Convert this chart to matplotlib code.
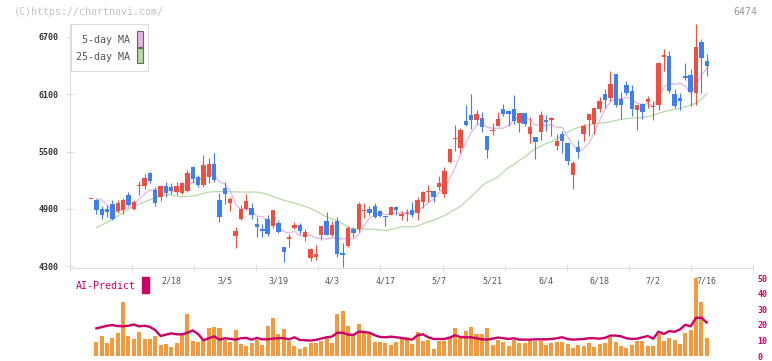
import numpy as np
import matplotlib
matplotlib.use("Agg")
import matplotlib.pyplot as plt
from matplotlib.patches import Rectangle
from matplotlib.transforms import blended_transform_factory

nan = np.nan

# daily candles (c1 .. c116)
opens = [5004, 4994, 4900, 4900, 4952, 4882, 4893, 5046, 4900, 5135,
         5140, 5277, 5098, 5025, 5137, 5130, 5078, 5067, 5088, 5339,
         5235, 5154, 5235, 5371, 4994, 5119, 4962, 4617, 4795, 4903,
         4910, 4743, 4690, 4795, 4722, 4753, 4502, 4588, 4701, 4732,
         4606, 4390, 4397, 4631, 4774, 4631, 4774, 4425, 4512, 4690,
         4690, 4875, 4900, 4931, 4879, 4820, 4837, 4920, 4826, 4843,
         4889, 4857, 4973, 5073, 5088, 5130, 5056, 5391, 5628, 5538,
         5821, 5884, 5831, 5852, 5664, 5712, 5768, 5946, 5925, 5946,
         5800, 5904, 5685, 5653, 5706, 5831, 5831, 5559, 5685, 5590,
         5255, 5548, 5684, 5831, 5789, 5946, 6103, 6061, 6313, 6051,
         6197, 6135, 5936, 5998, 6020, 5963, 5988, 6491, 6501, 6103,
         6061, 6292, 6302, 6114, 6648, 6449]
highs = [5004, 5004, 4931, 4941, 4994, 4994, 5015, 5078, 4994, 5193,
         5266, 5287, 5130, 5151, 5182, 5172, 5182, 5182, 5308, 5350,
         5256, 5465, 5430, 5486, 5067, 5182, 5025, 4711, 4944, 5057,
         4962, 4816, 4746, 4837, 4889, 4784, 4502, 4641, 4763, 4753,
         4690, 4491, 4523, 4722, 4868, 4774, 4816, 4544, 4722, 4711,
         4973, 4962, 4931, 4962, 4889, 4826, 4931, 4931, 4879, 4900,
         4973, 5025, 5088, 5151, 5088, 5245, 5339, 5528, 5779, 5747,
         5988, 6103, 5936, 5915, 5664, 5800, 5915, 5999, 5936, 6093,
         5904, 5904, 5863, 5653, 5925, 5884, 5863, 5685, 5716, 5590,
         5402, 5622, 5789, 5894, 5957, 6072, 6156, 6344, 6313, 6124,
         6239, 6197, 5988, 6009, 6082, 6030, 6428, 6575, 6553, 6156,
         6114, 6428, 6365, 6836, 6679, 6522]
lows = [5004, 4847, 4798, 4819, 4784, 4854, 4851, 4934, 4889, 5046,
        5112, 5175, 4934, 4987, 5022, 5053, 5046, 5057, 5078, 5172,
        5130, 5130, 5172, 5182, 4763, 4955, 4879, 4491, 4780, 4886,
        4798, 4610, 4610, 4620, 4697, 4652, 4345, 4502, 4694, 4638,
        4568, 4359, 4369, 4575, 4631, 4620, 4400, 4296, 4502, 4606,
        4659, 4805, 4837, 4805, 4816, 4722, 4837, 4837, 4784, 4774,
        4816, 4784, 4910, 4973, 4973, 5098, 5025, 5381, 5507, 5486,
        5768, 5737, 5789, 5706, 5433, 5674, 5768, 5873, 5768, 5789,
        5706, 5768, 5590, 5423, 5622, 5716, 5664, 5517, 5486, 5360,
        5109, 5433, 5611, 5663, 5684, 5915, 5957, 6030, 5967, 5842,
        6093, 5873, 5726, 5842, 5957, 5831, 5936, 6344, 6114, 5957,
        5936, 6250, 5978, 5988, 6114, 6292]
closes = [5004, 4893, 4840, 4868, 4795, 4962, 4994, 4945, 4973, 5140,
          5224, 5196, 4962, 5140, 5067, 5088, 5140, 5172, 5277, 5214,
          5151, 5360, 5371, 5203, 4816, 5057, 5004, 4669, 4900, 4983,
          4840, 4711, 4673, 4641, 4889, 4662, 4449, 4592, 4732, 4669,
          4659, 4481, 4428, 4722, 4631, 4732, 4432, 4421, 4701, 4648,
          4952, 4879, 4858, 4816, 4826, 4816, 4920, 4889, 4847, 4847,
          4837, 4994, 5077, 5077, 5025, 5172, 5297, 5528, 5632, 5727,
          5779, 5831, 5894, 5758, 5517, 5716, 5842, 5894, 5897, 5821,
          5904, 5789, 5758, 5601, 5884, 5810, 5852, 5611, 5611, 5402,
          5381, 5496, 5768, 5894, 5957, 6030, 6040, 6208, 5988, 5988,
          6114, 5946, 5988, 5915, 6051, 5967, 6428, 6512, 6135, 5978,
          6030, 6271, 6124, 6595, 6480, 6396]

ma5 = [nan, 5004, 4994, 4940, 4880, 4872, 4892, 4913, 4934, 5003,
       5055, 5096, 5099, 5132, 5118, 5091, 5079, 5121, 5149, 5178,
       5191, 5235, 5275, 5260, 5180, 5161, 5090, 4950, 4889, 4923,
       4879, 4821, 4821, 4770, 4751, 4715, 4663, 4647, 4665, 4621,
       4620, 4627, 4594, 4592, 4584, 4599, 4589, 4588, 4583, 4587,
       4631, 4720, 4808, 4831, 4866, 4839, 4847, 4853, 4860, 4864,
       4868, 4883, 4920, 4966, 5002, 5069, 5130, 5220, 5331, 5471,
       5593, 5699, 5773, 5798, 5756, 5743, 5745, 5745, 5773, 5834,
       5872, 5861, 5834, 5775, 5787, 5768, 5781, 5752, 5754, 5657,
       5571, 5500, 5532, 5588, 5699, 5829, 5938, 6026, 6045, 6051,
       6068, 6049, 6005, 5990, 6003, 5973, 6070, 6175, 6219, 6204,
       6217, 6185, 6108, 6200, 6300, 6373]
ma25 = [nan, 4705, 4730, 4760, 4790, 4825, 4860, 4895, 4925, 4950,
        4975, 4995, 5020, 5035, 5045, 5050, 5035, 5028, 5030, 5035,
        5045, 5060, 5075, 5080, 5082, 5082, 5080, 5078, 5076, 5075,
        5077, 5075, 5068, 5050, 5030, 5010, 4990, 4975, 4960, 4945,
        4925, 4905, 4880, 4845, 4815, 4795, 4780, 4745, 4708, 4690,
        4687, 4687, 4687, 4685, 4680, 4673, 4685, 4697, 4712, 4714,
        4714, 4722, 4745, 4765, 4780, 4805, 4830, 4860, 4895, 4925,
        4975, 5030, 5080, 5140, 5180, 5205, 5235, 5285, 5335, 5365,
        5410, 5440, 5490, 5530, 5555, 5585, 5605, 5635, 5665, 5700,
        5730, 5755, 5770, 5780, 5790, 5797, 5803, 5812, 5825, 5838,
        5845, 5850, 5852, 5858, 5866, 5880, 5900, 5918, 5930, 5942,
        5953, 5970, 5988, 6006, 6050, 6103]

volume = [nan, 9.1, 12.9, 8.4, 11.6, 14.8, 34.4, 12.9, 11.0, 15.4,
          11.0, 11.0, 12.9, 7.2, 7.8, 5.9, 8.4, 13.5, 26.8, 9.7,
          9.1, 10.3, 17.9, 18.6, 17.9, 10.3, 9.1, 16.7, 7.8, 6.5,
          8.4, 10.3, 7.2, 19.2, 24.3, 14.1, 17.3, 9.7, 6.5, 4.6,
          5.9, 8.4, 8.4, 9.7, 11.6, 8.4, 26.8, 28.7, 19.2, 13.5,
          20.4, 15.4, 14.1, 9.1, 9.1, 8.4, 7.2, 9.1, 11.6, 12.5,
          7.8, 15.4, 9.7, 10.3, 4.6, 9.7, 9.7, 12.2, 17.9, 12.2,
          16.0, 18.6, 14.1, 14.1, 17.9, 7.1, 10.3, 9.0, 6.5, 10.3,
          8.4, 8.4, 10.3, 9.7, 9.7, 7.1, 8.4, 9.0, 9.0, 7.8,
          5.2, 7.1, 6.5, 8.4, 5.8, 7.8, 8.4, 12.2, 9.0, 6.5,
          5.2, 7.1, 9.7, 9.7, 6.5, 6.5, 14.1, 9.7, 11.6, 10.3,
          7.8, 14.8, 16.7, 49.7, 34.3, 11.6]
ai_predict = [nan, 17.7, 18.5, 19.4, 19.8, 19.2, 19.0, 19.4, 20.2, 19.0,
              19.4, 18.7, 16.6, 12.8, 13.7, 14.5, 13.9, 13.9, 14.9, 16.4,
              14.1, 10.1, 11.4, 12.6, 10.5, 11.4, 11.0, 10.5, 11.4, 11.6,
              10.5, 11.6, 10.7, 10.7, 11.2, 11.4, 11.4, 10.7, 12.0, 10.3,
              10.1, 9.9, 10.3, 11.2, 12.0, 12.4, 14.9, 14.9, 13.7, 13.5,
              15.6, 15.4, 14.9, 13.3, 12.2, 12.0, 12.4, 12.0, 11.6, 10.9,
              10.5, 13.3, 13.9, 12.0, 10.9, 10.9, 10.9, 11.8, 13.3, 12.2,
              12.0, 12.0, 11.4, 10.7, 10.5, 11.1, 11.8, 11.4, 10.9, 11.4,
              10.5, 10.5, 10.5, 10.7, 10.7, 10.7, 10.9, 11.4, 12.0, 10.9,
              10.5, 10.7, 10.9, 11.4, 11.4, 11.1, 11.6, 13.1, 13.1, 12.6,
              11.4, 10.9, 11.1, 12.0, 12.8, 11.1, 15.6, 14.1, 16.0, 15.5,
              17.0, 20.0, 19.0, 24.5, 24.5, 21.5]

date_labels = ['2/18', '3/5', '3/19', '4/3', '4/17', '5/7',
               '5/21', '6/4', '6/18', '7/2', '7/16']
date_index = [15, 25, 35, 45, 55, 65, 75, 85, 95, 105, 115]
price_ticks = [4300, 4900, 5500, 6100, 6700]
ai_ticks = [0, 10, 20, 30, 40, 50]

RED = '#f04e3e'
BLUE = '#3f7ff0'
PINK = '#e8b4e8'
GREEN = '#b6dca6'
ORANGE = '#f39a3e'
MAGENTA = '#cc0066'
GRID = '#dddddd'
MONO = 'DejaVu Sans Mono'

W, H = 772, 361
fig = plt.figure(figsize=(W / 100, H / 100), dpi=100)
left, right = 70, 753
xlim = (-3.92, 123.64)

ax = fig.add_axes([left / W, 1 - 267.5 / H, (right - left) / W, (267.5 - 24) / H])
ax2 = fig.add_axes([left / W, 1 - 356.0 / H, (right - left) / W, 78 / H])

idx = np.arange(len(closes))
o = np.array(opens, float)
c = np.array(closes, float)
colors = np.where(c >= o, RED, BLUE)

ax.plot(idx, ma25, color=GREEN, lw=0.9, zorder=1)
ax.plot(idx, ma5, color=PINK, lw=0.9, zorder=1)
ax.vlines(idx, lows, highs, colors=colors, lw=0.8, zorder=2)
ax.bar(idx, np.maximum(np.abs(c - o), 14), bottom=np.minimum(o, c),
       width=0.82, color=colors, linewidth=0, zorder=3)

ax.set_xlim(*xlim)
ax.set_ylim(4286, 6836)
for s in ['top', 'right']:
    ax.spines[s].set_visible(False)
for s in ['left', 'bottom']:
    ax.spines[s].set_color(GRID)
    ax.spines[s].set_linewidth(0.8)
ax.set_yticks(price_ticks)
ax.set_yticklabels([str(t) for t in price_ticks], family=MONO,
                   fontsize=6, fontweight='bold', color='#333333')
ax.set_xticks(np.linspace(xlim[0], xlim[1], 12))
ax.set_xticklabels([])
ax.tick_params(axis='y', direction='inout', length=6, width=0.8,
               color=GRID, pad=5)
ax.tick_params(axis='x', direction='inout', length=5, width=0.8, color=GRID)

# lower panel: volume bars + AI-Predict line
ax2.bar(idx, volume, width=0.75, color=ORANGE, linewidth=0, zorder=1)
ax2.plot(idx, ai_predict, color=MAGENTA, lw=1.7, zorder=2)
ax2.set_xlim(*xlim)
ax2.set_ylim(0, 50)
for s in ax2.spines.values():
    s.set_visible(False)
ax2.set_xticks([])
ax2.yaxis.tick_right()
ax2.set_yticks(ai_ticks)
ax2.set_yticklabels([str(t) for t in ai_ticks], family=MONO, fontsize=6,
                    fontweight='bold', color=MAGENTA)
ax2.tick_params(axis='y', length=0, pad=3)

trans = blended_transform_factory(ax2.transData, ax2.transAxes)
for pos, lab in zip(date_index, date_labels):
    ax2.text(pos, 0.96, lab, transform=trans, ha='center', va='center',
             family=MONO, fontsize=6, color='#555555', zorder=5)

fig.text(75.7 / W, 1 - 286 / H, 'AI-Predict', family=MONO, fontsize=7.2,
         color=MAGENTA, ha='left', va='center')
fig.patches.append(Rectangle((142.3 / W, 1 - 292.7 / H), 6.4 / W, 15.4 / H,
                             transform=fig.transFigure, color=MAGENTA))

# legend box
fig.patches.append(Rectangle((70.5 / W, 1 - 71 / H), 77.8 / W, 46.7 / H,
                             transform=fig.transFigure, facecolor='white',
                             edgecolor=GRID, lw=0.8, zorder=5))
fig.patches.append(Rectangle((136.5 / W, 1 - 46.7 / H), 6 / W, 15.5 / H,
                             transform=fig.transFigure, facecolor=PINK,
                             edgecolor='#666666', lw=0.8, zorder=6))
fig.patches.append(Rectangle((136.5 / W, 1 - 63.3 / H), 6 / W, 15 / H,
                             transform=fig.transFigure, facecolor=GREEN,
                             edgecolor='#666666', lw=0.8, zorder=6))
fig.text(129.5 / W, 1 - 40 / H, '5-day MA', family=MONO, fontsize=7.2,
         color='#555555', ha='right', va='center', zorder=7)
fig.text(129.5 / W, 1 - 57.3 / H, '25-day MA', family=MONO, fontsize=7.2,
         color='#555555', ha='right', va='center', zorder=7)

fig.text(14 / W, 1 - 12 / H, '(C)https://chartnavi.com/', family=MONO,
         fontsize=7.2, color='#c4c4c4', ha='left', va='center')
fig.text(757 / W, 1 - 12 / H, '6474', family=MONO, fontsize=7.2,
         color='#999999', ha='right', va='center')

fig.savefig('out.png', dpi=100, facecolor='white')
